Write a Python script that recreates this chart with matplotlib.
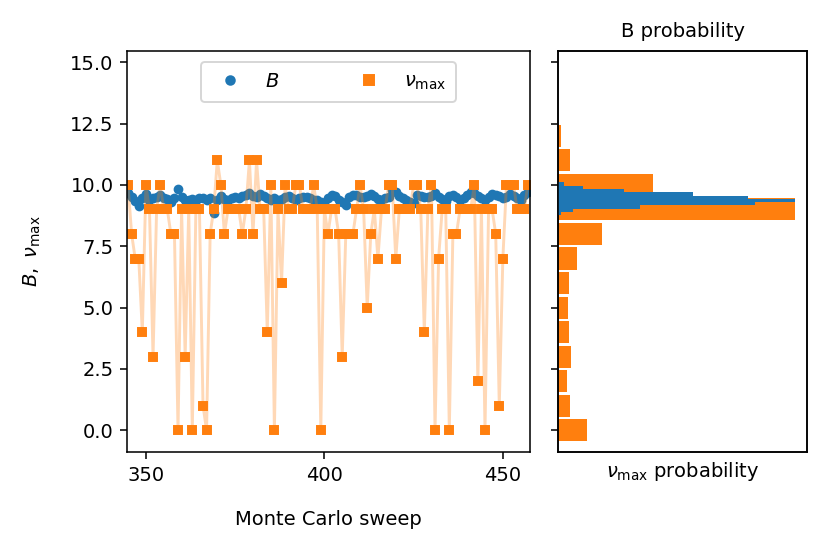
import numpy as np
import matplotlib
matplotlib.use("Agg")
import matplotlib.pyplot as plt

# Monte Carlo sweeps shown in the left panel
sweeps = np.arange(345, 458)

# B per sweep
B = [9.65, 9.50, 9.35, 9.12, 9.45, 9.62, 9.40, 9.45, 9.50, 9.58,
     9.45, 9.42, 9.30, 9.45, 9.85, 9.50, 9.40, 9.38, 9.42, 9.40,
     9.48, 9.45, 9.38, 9.45, 8.85, 9.40, 9.55, 9.42, 9.40, 9.45,
     9.50, 9.48, 9.55, 9.60, 9.68, 9.55, 9.50, 9.62, 9.55, 9.48,
     9.40, 9.45, 9.38, 9.42, 9.50, 9.55, 9.45, 9.40, 9.48, 9.52,
     9.50, 9.45, 9.40, 9.38, 9.32, 9.25, 9.45, 9.58, 9.55, 9.40,
     9.30, 9.20, 9.52, 9.60, 9.58, 9.50, 9.52, 9.55, 9.62, 9.55,
     9.42, 9.40, 9.45, 9.50, 9.78, 9.70, 9.55, 9.45, 9.40, 9.30,
     9.25, 9.60, 9.55, 9.52, 9.50, 9.55, 9.65, 9.50, 9.42, 9.35,
     9.55, 9.60, 9.50, 9.40, 9.45, 9.60, 9.72, 9.68, 9.55, 9.45,
     9.38, 9.50, 9.62, 9.58, 9.55, 9.48, 9.52, 9.62, 9.55, 9.45,
     9.40, 9.58, 9.70]

# nu_max per sweep
nu = [10, 8, 7, 7, 4, 10, 9, 3, 9, 10,
      9, 9, 8, 8, 0, 9, 3, 9, 0, 9,
      9, 1, 0, 8, 9, 11, 10, 8, 9, 9,
      9, 9, 8, 9, 11, 8, 11, 9, 9, 4,
      10, 0, 9, 6, 10, 9, 9, 10, 10, 9,
      9, 9, 10, 9, 0, 9, 8, 9, 9, 8,
      3, 8, 8, 8, 9, 10, 9, 5, 8, 9,
      7, 9, 9, 10, 10, 7, 9, 9, 9, 9,
      10, 10, 9, 4, 9, 10, 0, 7, 9, 9,
      0, 8, 8, 9, 9, 9, 9, 10, 2, 9,
      0, 9, 9, 8, 1, 7, 10, 10, 10, 9,
      9, 9, 10]

# histogram of nu_max (whole run)
nu_levels = np.arange(0, 13)
nu_prob = [0.058, 0.023, 0.018, 0.025, 0.021, 0.020, 0.021,
           0.038, 0.087, 0.471, 0.189, 0.023, 0.005]

# histogram of B (whole run)
B_edges = np.linspace(8.77, 10.10, 11)
B_prob = [0.003, 0.015, 0.086, 0.206, 0.248, 0.199, 0.141, 0.069, 0.026, 0.006]

fig = plt.figure(figsize=(829 / 140, 550 / 140), dpi=140)
ax = fig.add_axes([0.1536, 0.1776, 0.4857, 0.7302])
ax2 = fig.add_axes([0.6735, 0.1776, 0.2996, 0.7302], sharey=ax)

ax.plot(sweeps, B, 'o', color='C0', ms=4, label='$B$')
ax.plot(sweeps, nu, '-', color='C1', alpha=0.3)
ax.plot(sweeps, nu, 's', color='C1', ms=4.5, label=r'$\nu_{\rm max}$')
ax.set_xlim(344.8, 457.6)
ax.set_ylim(-0.9, 15.47)
ax.set_xticks([350, 400, 450])
ax.set_yticks(np.arange(0, 15.1, 2.5))
ax.set_xlabel('Monte Carlo sweep', labelpad=13)
ax.set_ylabel(r'$B,\ \nu_{\rm max}$', labelpad=14)
ax.legend(loc='upper center', ncol=2, columnspacing=3.6, borderpad=0.5,
          borderaxespad=0.6, markerscale=1.1)

ax2.barh(nu_levels, nu_prob, height=0.9, color='C1')
ax2.set_xlabel(r'$\nu_{\rm max}$ probability')
ax2.set_xticks([])
ax2.tick_params(labelleft=False)

ax3 = ax2.twiny()
ax3.barh(B_edges[:-1], B_prob, height=np.diff(B_edges), align='edge', color='C0')
ax3.set_xlabel('B probability', labelpad=7)
ax3.set_xticks([])

fig.savefig('out.png', dpi=140)
